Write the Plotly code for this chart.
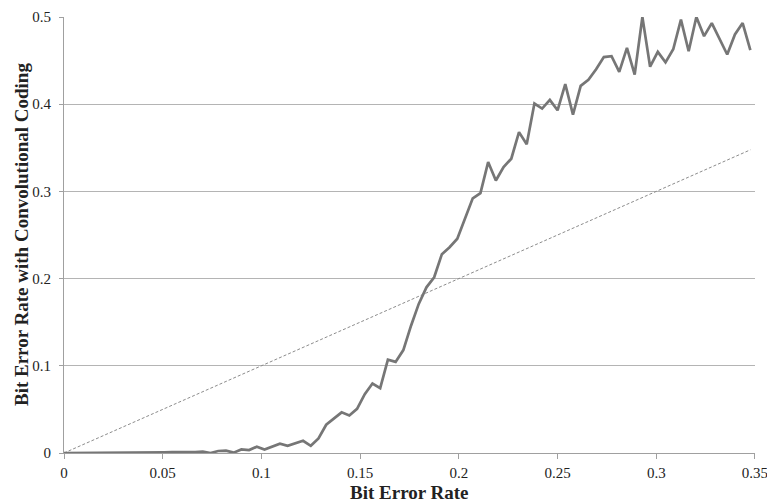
import plotly.graph_objects as go

# Channel bit error rate, sampled at k/256 for k = 0..89
k_index = list(range(90))
ber = [k / 256 for k in k_index]

# Measured bit error rate after convolutional decoding
ber_coded = [
    0.0, 0.0, 0.0, 0.0, 0.0, 0.0, 0.0002, 0.0003, 0.0002, 0.0004,
    0.0005, 0.0004, 0.0006, 0.0008, 0.0009, 0.0007, 0.0006, 0.001, 0.0015, 0.0,
    0.0023, 0.0027, 0.0004, 0.0041, 0.0034, 0.0072, 0.004, 0.0072, 0.0106, 0.0083,
    0.011, 0.014, 0.0083, 0.0168, 0.0324, 0.039, 0.0466, 0.043, 0.0507, 0.0675,
    0.0797, 0.0744, 0.107, 0.1045, 0.118, 0.146, 0.171, 0.19, 0.2015, 0.228,
    0.236, 0.2457, 0.27, 0.292, 0.298, 0.3336, 0.3125, 0.328, 0.3375, 0.368,
    0.354, 0.4008, 0.395, 0.405, 0.393, 0.423, 0.388, 0.421, 0.428, 0.44,
    0.454, 0.455, 0.437, 0.4645, 0.434, 0.5, 0.443, 0.46, 0.448, 0.463,
    0.497, 0.4607, 0.5, 0.478, 0.493, 0.475, 0.457, 0.48, 0.493, 0.462,
]

x_ticks = [0, 0.05, 0.1, 0.15, 0.2, 0.25, 0.3, 0.35]
x_labels = ["0", "0.05", "0.1", "0.15", "0.2", "0.25", "0.3", "0.35"]
y_ticks = [0, 0.1, 0.2, 0.3, 0.4, 0.5]
y_labels = ["0", "0.1", "0.2", "0.3", "0.4", "0.5"]

serif = "Liberation Serif, Times New Roman, serif"
text_color = "#222222"

fig = go.Figure()

# Uncoded reference: coded BER equal to channel BER
fig.add_trace(go.Scatter(
    x=ber, y=ber, mode="lines",
    line=dict(color="#8c8c8c", width=1, dash="3px,2px"),
    showlegend=False, hoverinfo="skip",
))

fig.add_trace(go.Scatter(
    x=ber, y=ber_coded, mode="lines",
    line=dict(color="#767676", width=2.7),
    showlegend=False,
))

fig.update_layout(
    width=767, height=503,
    margin=dict(l=64, r=12, t=17, b=50),
    paper_bgcolor="white", plot_bgcolor="white",
    font=dict(family=serif, size=15, color=text_color),
    xaxis=dict(
        range=[0, 0.35001], tickvals=x_ticks, ticktext=x_labels,
        showgrid=False, zeroline=False, automargin=False,
        showline=True, linecolor="#a0a0a0", linewidth=1,
        ticks="outside", ticklen=5, tickcolor="#a0a0a0",
        ticklabelstandoff=1, ticklabeloverflow="allow",
        tickfont=dict(family=serif, size=15, color=text_color),
    ),
    yaxis=dict(
        range=[0, 0.5], tickvals=y_ticks, ticktext=y_labels,
        showgrid=True, gridcolor="#b4b4b4", gridwidth=1, zeroline=False,
        automargin=False,
        showline=True, linecolor="#a0a0a0", linewidth=1,
        ticks="outside", ticklen=4, tickcolor="#a0a0a0",
        ticklabelstandoff=5,
        tickfont=dict(family=serif, size=15, color=text_color),
    ),
    annotations=[
        dict(text="<b>Bit Error Rate</b>", xref="paper", yref="paper",
             x=0.5, y=-0.0917, xanchor="center", yanchor="middle",
             showarrow=False, font=dict(family=serif, size=19, color=text_color)),
        dict(text="<b>Bit Error Rate with Convolutional Coding</b>",
             xref="paper", yref="paper", x=-0.0622, y=0.5,
             xanchor="center", yanchor="middle", textangle=-90,
             showarrow=False, font=dict(family=serif, size=19, color=text_color)),
    ],
)

fig.write_html("out.html")
